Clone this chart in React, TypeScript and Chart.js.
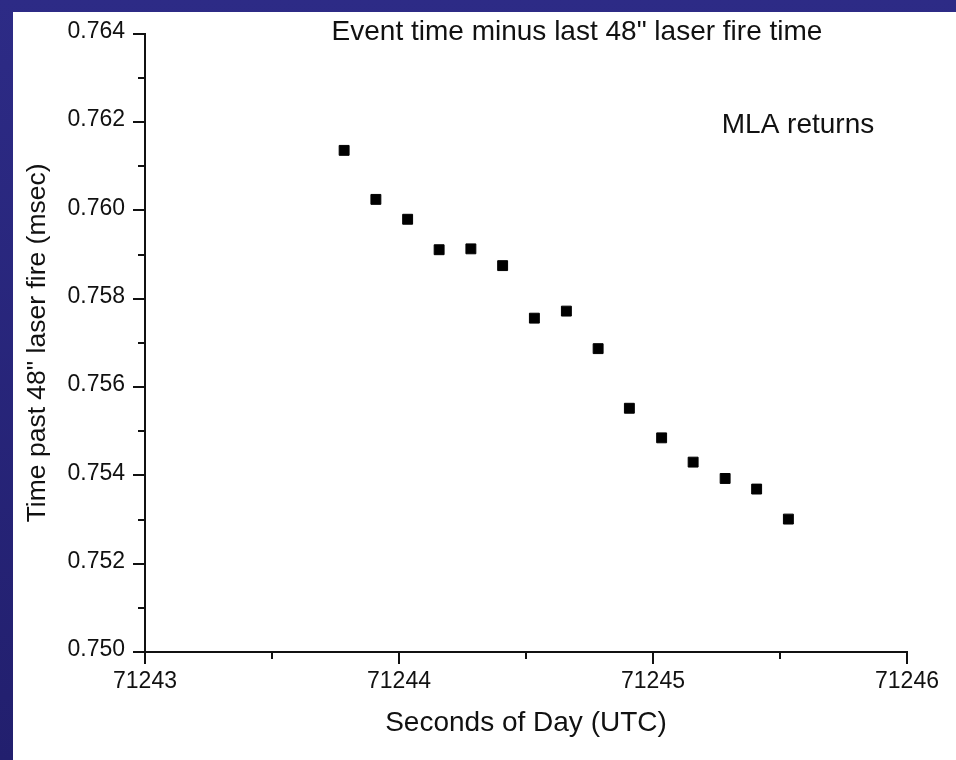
import React, { useEffect, useRef } from 'react';
import { Chart, registerables } from 'chart.js';

Chart.register(...registerables);

// ---- data ----
const chartTitle = 'Event time minus last 48" laser fire time';
const annotationText = 'MLA returns';
const xAxisTitle = 'Seconds of Day (UTC)';
const yAxisTitle = 'Time past 48" laser fire (msec)';

const eventSeconds = [
  71243.784, 71243.909, 71244.034, 71244.158, 71244.283,
  71244.408, 71244.533, 71244.659, 71244.784, 71244.907,
  71245.034, 71245.158, 71245.284, 71245.408, 71245.533,
];
const timePastFire = [
  0.76136, 0.76025, 0.7598, 0.75911, 0.75913,
  0.75875, 0.75756, 0.75772, 0.75687, 0.75552,
  0.75485, 0.7543, 0.75393, 0.75369, 0.75301,
];

const xMajorTicks = [71243, 71244, 71245, 71246];
const xMinorTicks = [71243.5, 71244.5, 71245.5];
const yMajorTicks = [0.75, 0.752, 0.754, 0.756, 0.758, 0.76, 0.762, 0.764];
const yMinorTicks = [0.751, 0.753, 0.755, 0.757, 0.759, 0.761, 0.763];

const FONT = '"Liberation Sans", Arial, Helvetica, sans-serif';
const INK = '#111111';

const framePlugin = {
  id: 'frame',
  beforeDraw(chart: any) {
    const { ctx, width, height } = chart;
    ctx.save();
    const g = ctx.createLinearGradient(0, 0, 0, height);
    g.addColorStop(0, '#2d2b86');
    g.addColorStop(1, '#221f6e');
    ctx.fillStyle = g;
    ctx.fillRect(0, 0, width, height);
    ctx.fillStyle = '#ffffff';
    ctx.fillRect(13, 12, width - 13, height - 12);
    ctx.restore();
  },
  afterDraw(chart: any) {
    const { ctx, chartArea } = chart;
    const xs = chart.scales.x;
    const ys = chart.scales.y;
    ctx.save();
    ctx.strokeStyle = INK;
    ctx.lineWidth = 2;
    ctx.beginPath();
    yMajorTicks.forEach((v) => {
      const p = Math.round(ys.getPixelForValue(v));
      ctx.moveTo(chartArea.left - 12, p);
      ctx.lineTo(chartArea.left, p);
    });
    yMinorTicks.forEach((v) => {
      const p = Math.round(ys.getPixelForValue(v));
      ctx.moveTo(chartArea.left - 7, p);
      ctx.lineTo(chartArea.left, p);
    });
    xMajorTicks.forEach((v) => {
      const p = Math.round(xs.getPixelForValue(v));
      ctx.moveTo(p, chartArea.bottom);
      ctx.lineTo(p, chartArea.bottom + 12);
    });
    xMinorTicks.forEach((v) => {
      const p = Math.round(xs.getPixelForValue(v));
      ctx.moveTo(p, chartArea.bottom);
      ctx.lineTo(p, chartArea.bottom + 7);
    });
    ctx.stroke();

    ctx.fillStyle = INK;
    ctx.font = `28px ${FONT}`;
    ctx.textAlign = 'center';
    ctx.textBaseline = 'alphabetic';
    ctx.fillText(chartTitle, 577, 40);
    ctx.fillText(annotationText, 798, 133);
    ctx.restore();
  },
};

export default function App() {
  const canvasRef = useRef<HTMLCanvasElement | null>(null);

  useEffect(() => {
    if (!canvasRef.current) return;
    const points = eventSeconds.map((x, i) => ({ x, y: timePastFire[i] }));
    const chart = new Chart(canvasRef.current, {
      type: 'scatter',
      data: {
        datasets: [
          {
            label: annotationText,
            data: points,
            pointStyle: 'rect',
            pointRadius: 7,
            pointHoverRadius: 7,
            backgroundColor: '#000000',
            borderColor: '#000000',
            borderWidth: 1,
          },
        ],
      },
      options: {
        responsive: false,
        animation: false,
        devicePixelRatio: 1,
        layout: { padding: { left: 0, top: 32, right: 49, bottom: 0 } },
        plugins: {
          legend: { display: false },
          title: { display: false },
          tooltip: { enabled: false },
        },
        scales: {
          x: {
            type: 'linear',
            min: 71243,
            max: 71246,
            afterBuildTicks: (scale: any) => {
              scale.ticks = xMajorTicks.map((v) => ({ value: v }));
            },
            afterFit: (scale: any) => {
              scale.height = 108;
            },
            grid: { display: false, drawTicks: false },
            border: { display: true, color: INK, width: 2 },
            ticks: {
              padding: 16,
              color: INK,
              font: { family: FONT, size: 23 },
              maxRotation: 0,
              callback: (v: any) => Number(v).toFixed(0),
            },
            title: {
              display: true,
              text: xAxisTitle,
              color: INK,
              font: { family: FONT, size: 28 },
              padding: { top: 0, bottom: 20 },
            },
          },
          y: {
            type: 'linear',
            min: 0.75,
            max: 0.764,
            afterBuildTicks: (scale: any) => {
              scale.ticks = yMajorTicks.map((v) => ({ value: v }));
            },
            afterFit: (scale: any) => {
              scale.width = 145;
            },
            grid: { display: false, drawTicks: false },
            border: { display: true, color: INK, width: 2 },
            ticks: {
              padding: 20,
              labelOffset: -2,
              color: INK,
              font: { family: FONT, size: 23 },
              callback: (v: any) => Number(v).toFixed(3),
            },
            title: {
              display: true,
              text: yAxisTitle,
              color: INK,
              font: { family: FONT, size: 26.5 },
              padding: { top: 22, bottom: 0 },
            },
          },
        },
      },
      plugins: [framePlugin],
    });
    return () => chart.destroy();
  }, []);

  return (
    <div style={{ position: 'fixed', left: 0, top: 0, width: 956, height: 760 }}>
      <canvas ref={canvasRef} width={956} height={760} style={{ display: 'block' }} />
    </div>
  );
}
